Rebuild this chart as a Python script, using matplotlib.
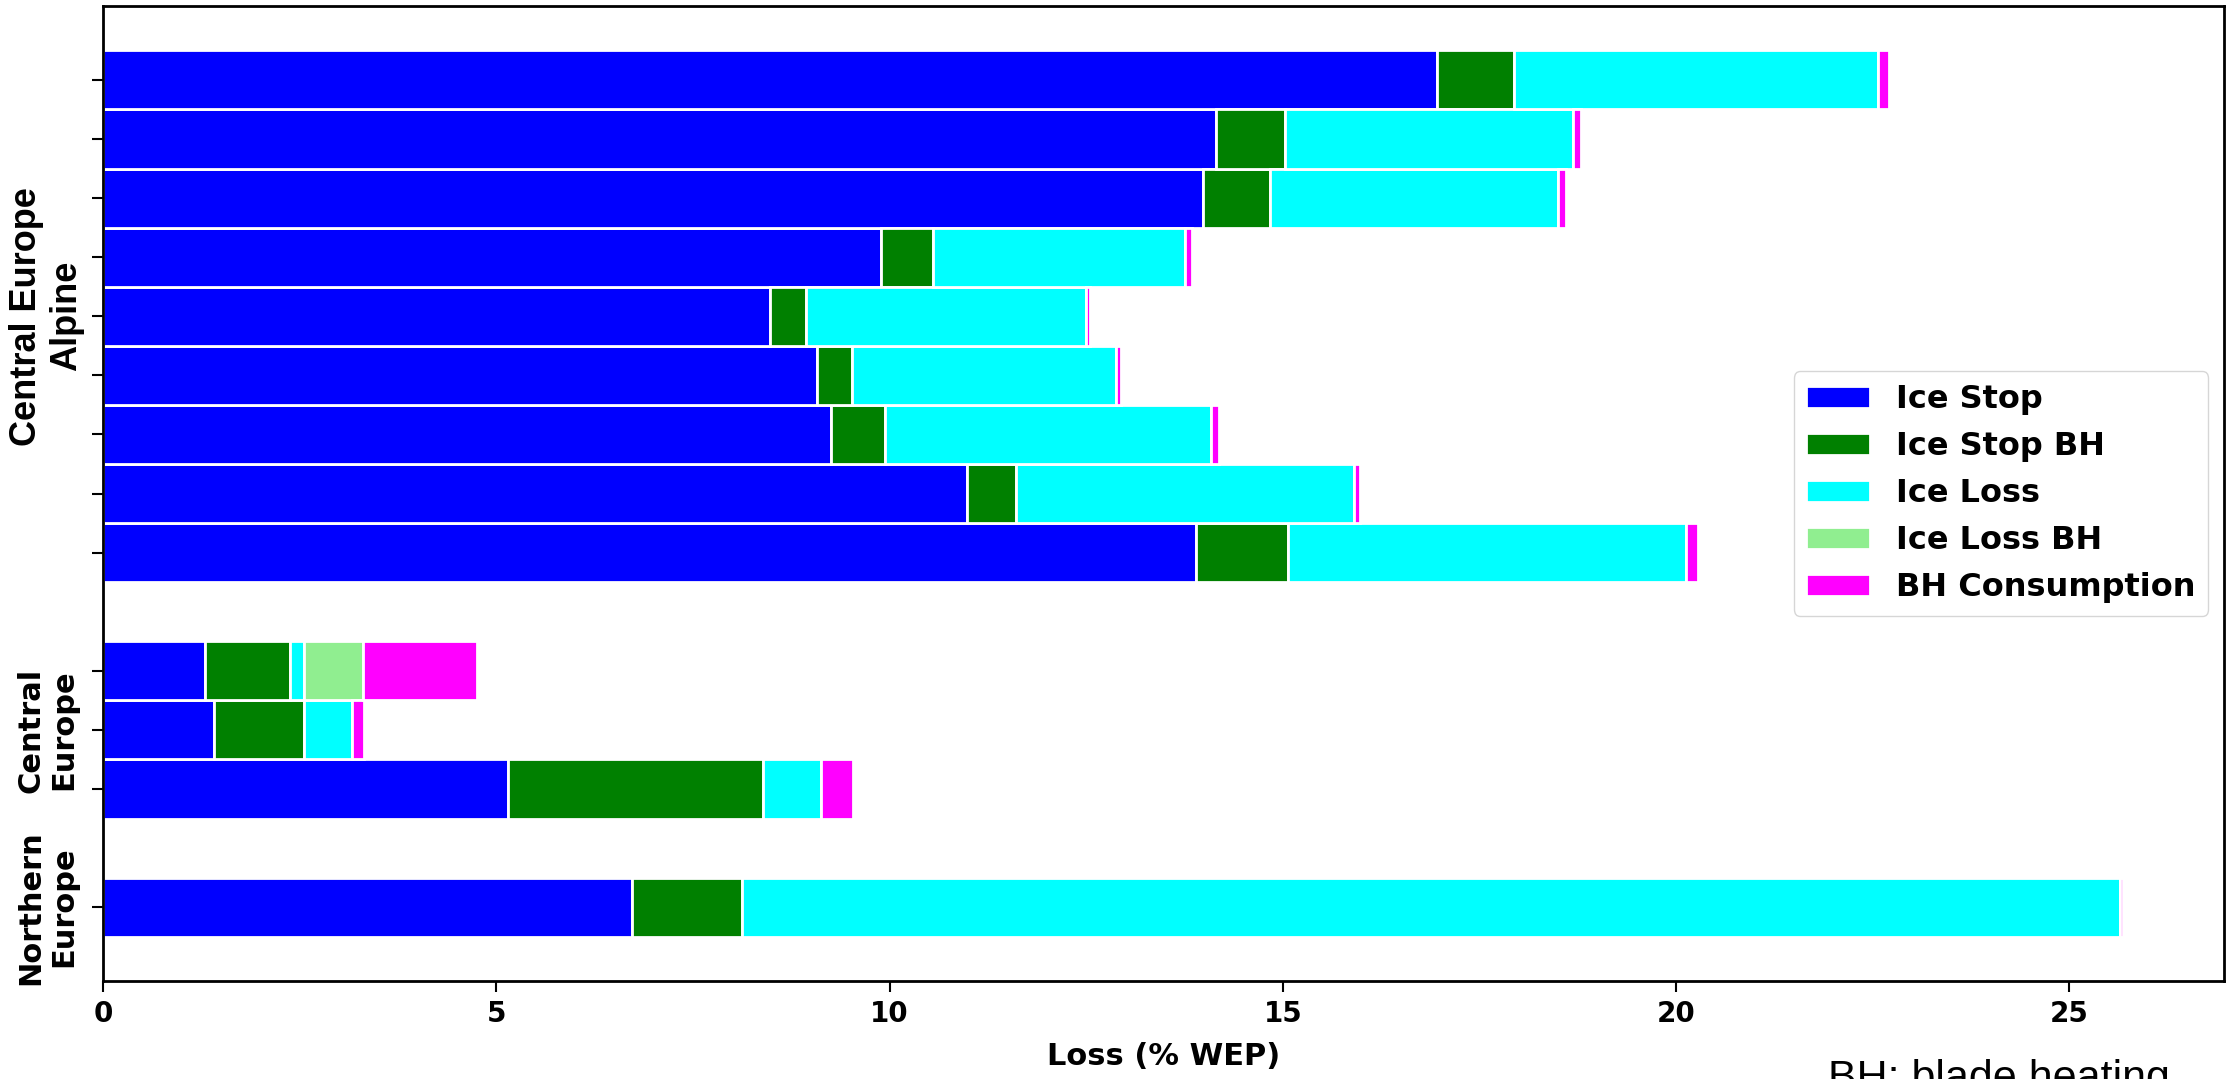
import numpy as np
import matplotlib
matplotlib.use('Agg')
import matplotlib.pyplot as plt

# bar rows: Northern Europe at 0, Central Europe 2-4, Central Europe Alpine 6-14
positions = [0, 2, 3, 4, 6, 7, 8, 9, 10, 11, 12, 13, 14]

series_names = ['Ice Stop', 'Ice Stop BH', 'Ice Loss', 'Ice Loss BH', 'BH Consumption']
series_colors = ['blue', 'green', 'cyan', 'lightgreen', 'magenta']

# loss components in % WEP, one value per row (same order as positions)
ice_stop = [6.72, 5.15, 1.41, 1.30, 13.89, 10.99, 9.26, 9.08, 8.48, 9.89, 13.98, 14.15, 16.96]
ice_stop_bh = [1.41, 3.24, 1.15, 1.08, 1.17, 0.62, 0.68, 0.44, 0.46, 0.66, 0.86, 0.88, 0.98]
ice_loss = [17.51, 0.74, 0.60, 0.18, 5.07, 4.30, 4.15, 3.36, 3.56, 3.21, 3.66, 3.66, 4.63]
ice_loss_bh = [0.0, 0.0, 0.0, 0.75, 0.0, 0.0, 0.0, 0.0, 0.0, 0.0, 0.0, 0.0, 0.0]
bh_consumption = [0.04, 0.41, 0.16, 1.45, 0.15, 0.07, 0.10, 0.06, 0.05, 0.09, 0.10, 0.10, 0.14]

groups = ['Northern\nEurope', 'Central\nEurope', 'Central Europe\nAlpine']
group_centers = [0, 3, 10]

fig = plt.figure(figsize=(22.28, 10.79), dpi=100)
ax = fig.add_axes([0.0462, 0.0908, 0.952, 0.9036])

#stack the segments left to right
left = np.zeros(len(positions))
for name, color, vals in zip(series_names, series_colors,
                             [ice_stop, ice_stop_bh, ice_loss, ice_loss_bh, bh_consumption]):
    vals = np.array(vals)
    ax.barh(positions, vals, left=left, height=1.0, color=color,
            edgecolor='white', linewidth=2, label=name)
    left = left + vals

ax.set_yticks(positions)
ax.set_yticklabels([])
ax.tick_params(axis='both', direction='out', length=8, width=1.5, pad=6)
for lab in ax.get_xticklabels():
    lab.set_fontsize(20)
    lab.set_fontweight('bold')
for sp in ax.spines.values():
    sp.set_linewidth(2)

ax.set_xlabel('Loss (% WEP)', fontsize=22, fontweight='bold', labelpad=10)

ax.legend(loc='center right', prop={'size': 23, 'weight': 'bold'})

#group labels on the left side
trans = ax.get_yaxis_transform()
ax.text(-0.0262, group_centers[0], groups[0], transform=trans, rotation=90,
        ha='center', va='center', fontsize=22, fontweight='bold', multialignment='center')
ax.text(-0.0262, group_centers[1], groups[1], transform=trans, rotation=90,
        ha='center', va='center', fontsize=22, fontweight='bold', multialignment='center')
ax.text(-0.0266, group_centers[2], groups[2], transform=trans, rotation=90,
        ha='center', va='center', fontsize=26, fontweight='bold', family='Liberation Sans',
        multialignment='center')

fig.text(0.8205, -0.010, 'BH: blade heating', fontsize=31, family='Liberation Sans',
         ha='left', va='baseline')

fig.savefig('out.png', dpi=100)
